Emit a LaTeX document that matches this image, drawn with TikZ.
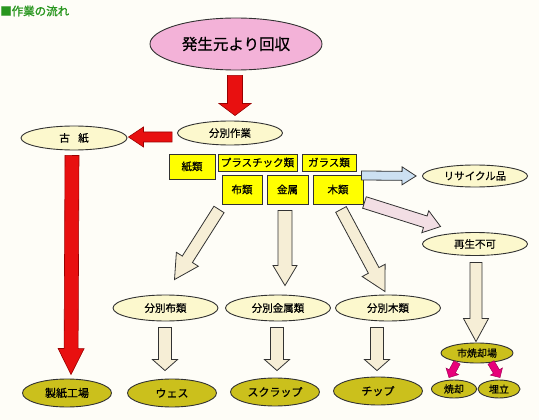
\documentclass[tikz,border=0pt]{standalone}
\usepackage{fontspec}
\setmainfont{Noto Sans CJK JP}[FakeBold=0.6]
\newfontfamily\titlefont{Noto Sans CJK JP}[FakeBold=1.6]
\usetikzlibrary{shapes.geometric,calc}
\definecolor{bgc}{RGB}{254,253,247}
\definecolor{pinkf}{RGB}{243,178,216}
\definecolor{creamf}{RGB}{252,248,205}
\definecolor{olivef}{RGB}{203,192,28}
\definecolor{yelf}{RGB}{255,255,0}
\definecolor{redf}{RGB}{232,16,16}
\definecolor{arrcream}{RGB}{246,238,214}
\definecolor{arrblue}{RGB}{204,224,242}
\definecolor{arrpink}{RGB}{242,222,228}
\definecolor{magf}{RGB}{232,0,122}
\definecolor{edgec}{RGB}{50,50,50}
\definecolor{titleg}{RGB}{40,150,30}
\newcommand\barrow[6]{%
  \coordinate (ba-a) at (#1);
  \coordinate (ba-b) at (#2);
  \coordinate (ba-h) at ($(ba-b)!#5!(ba-a)$);
  \draw[#6] ($(ba-a)!#3!90:(ba-b)$) -- ($(ba-h)!#3!-90:(ba-a)$) -- ($(ba-h)!#4!-90:(ba-a)$) -- (ba-b) -- ($(ba-h)!#4!90:(ba-a)$) -- ($(ba-h)!#3!90:(ba-a)$) -- ($(ba-a)!#3!-90:(ba-b)$) -- cycle;
}
\tikzset{
  ell/.style={ellipse, draw=edgec, line width=0.9pt, inner sep=0pt, font=\fontsize{10.5}{12}\selectfont},
  cream/.style={ell, fill=creamf, minimum width=105pt, minimum height=24pt},
  olive/.style={ell, fill=olivef, minimum width=89pt, minimum height=28pt, font=\fontsize{11}{12}\selectfont},
  ybox/.style={rectangle, draw=edgec, line width=0.9pt, fill=yelf, inner sep=0pt, font=\fontsize{10.5}{12}\selectfont},
  redarr/.style={fill=redf, draw=red!60!black, line width=0.6pt, line join=miter},
  crarr/.style={fill=arrcream, draw=edgec, line width=0.8pt, line join=miter},
  bluearr/.style={fill=arrblue, draw=edgec, line width=0.8pt, line join=miter},
  pkarr/.style={fill=arrpink, draw=edgec, line width=0.8pt, line join=miter},
  magarr/.style={fill=magf, draw=magf!70!black, line width=0.5pt, line join=miter},
}
\begin{document}
\begin{tikzpicture}[x=1pt,y=-1pt]
\fill[bgc] (0,0) rectangle (539,420);
\useasboundingbox (0,0) rectangle (539,420);
% title
\node[anchor=west, inner sep=0pt, text=titleg, font=\titlefont\fontsize{11.5}{12}\selectfont] (title) at (0,11) {■作業の流れ};
% top
\node[ell, fill=pinkf, minimum width=172pt, minimum height=52pt, font=\fontsize{15.5}{18}\selectfont] (gen) at (236,44) {発生元より回収};
\node[cream] (sort) at (230,133) {分別作業};
\node[cream, minimum width=106pt] (koshi) at (74,138) {古\hspace{0.8em}紙};
\node[olive] (seishi) at (67,393) {製紙工場};
% yellow boxes
\node[ybox, minimum width=46pt, minimum height=25pt] (kami) at (192,166.5) {紙類};
\node[ybox, minimum width=79pt, minimum height=17pt] (plas) at (257.5,162.5) {プラスチック類};
\node[ybox, minimum width=54pt, minimum height=17pt] (glass) at (329,162.5) {ガラス類};
\node[ybox, minimum width=40pt, minimum height=29pt] (nuno) at (242,189.5) {布類};
\node[ybox, minimum width=41pt, minimum height=29pt] (kinzoku) at (287.5,189.5) {金属};
\node[ybox, minimum width=50pt, minimum height=29pt] (moku) at (338,189.5) {木類};
% right side
\node[cream, minimum height=22pt] (recycle) at (475,176) {リサイクル品};
\node[cream, minimum height=23pt] (fuka) at (475,244) {再生不可};
\node[olive, minimum width=72pt, minimum height=20pt, font=\fontsize{10}{12}\selectfont] (shoukyakujo) at (477,353) {市焼却場};
\node[olive, minimum width=45pt, minimum height=18pt, font=\fontsize{10}{12}\selectfont] (shoukyaku) at (454,389) {焼却};
\node[olive, minimum width=42pt, minimum height=18pt, font=\fontsize{10}{12}\selectfont] (umetate) at (499,389) {埋立};
% middle
\node[cream, minimum height=26pt] (bnuno) at (165.5,308) {分別布類};
\node[cream, minimum height=26pt] (bkin) at (278,308) {分別金属類};
\node[cream, minimum height=26pt] (bmoku) at (388,308) {分別木類};
% bottom
\node[olive] (wes) at (172,393) {ウェス};
\node[olive] (scrap) at (275,392) {スクラップ};
\node[olive] (chip) at (378,391) {チップ};
% arrows
\barrow{$(gen.south)+(-1,5)$}{$(sort.north)+(5,-5)$}{7.5pt}{16pt}{12pt}{redarr}
\barrow{$(sort.west)+(-5,4)$}{$(koshi.east)+(1,-1)$}{5pt}{10pt}{15pt}{redarr}
\barrow{$(koshi.south)+(-2,5)$}{$(seishi.north)+(4,-4)$}{7pt}{13pt}{26pt}{redarr}
\barrow{$(glass.south east)+(5,4)$}{$(recycle.west)+(-6,0)$}{4.5pt}{9pt}{14pt}{bluearr}
\barrow{$(moku.east)+(1,13)$}{$(fuka.north west)+(3,-9)$}{6pt}{11.5pt}{16pt}{pkarr}
\barrow{$(nuno.south)+(-23,5)$}{$(bnuno.north)+(9,-15)$}{6pt}{13pt}{24pt}{crarr}
\barrow{$(kinzoku.south)+(-2.5,6)$}{$(bkin.north)+(7,-9)$}{7pt}{12pt}{20pt}{crarr}
\barrow{$(moku.south)+(3,5)$}{$(bmoku.north)+(-3,-3)$}{6pt}{13pt}{24pt}{crarr}
\barrow{$(fuka.south)+(1,6.5)$}{$(shoukyakujo.north)+(-1,-1)$}{6pt}{12.5pt}{23pt}{crarr}
\barrow{$(bnuno.south)+(-0.5,6)$}{$(wes.north)+(-7,-8)$}{6.5pt}{12.5pt}{11pt}{crarr}
\barrow{$(bkin.south)+(-1,6)$}{$(scrap.north)+(2,-7)$}{6.5pt}{12.5pt}{11pt}{crarr}
\barrow{$(bmoku.south)+(-11,6)$}{$(chip.north)+(-1,-6)$}{6.5pt}{12.5pt}{11pt}{crarr}
\barrow{$(shoukyakujo.south)+(-20,-1)$}{$(shoukyaku.north)+(-5,-2)$}{3.5pt}{7pt}{7pt}{magarr}
\barrow{$(shoukyakujo.south)+(14,-1)$}{$(umetate.north)+(1,-2)$}{3.5pt}{7pt}{7pt}{magarr}
\end{tikzpicture}
\end{document}
